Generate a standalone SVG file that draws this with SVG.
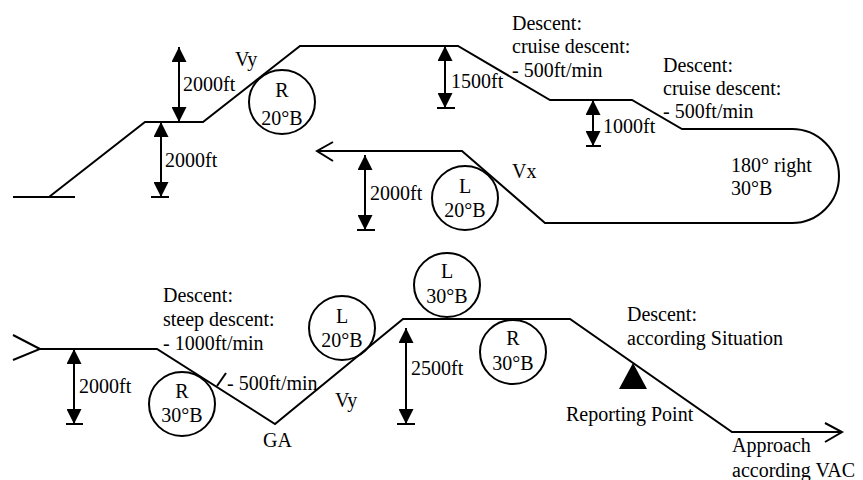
<svg xmlns="http://www.w3.org/2000/svg" width="863" height="480" viewBox="0 0 863 480">
<defs>
<marker id="ah" viewBox="0 0 15 15" refX="15" refY="7.5" markerWidth="15" markerHeight="15" markerUnits="userSpaceOnUse" orient="auto-start-reverse">
<path d="M0,0 L15,7.5 L0,15 z" fill="#000"/>
</marker>
<style>
.ln{fill:none;stroke:#000;stroke-width:2}
.dim{fill:none;stroke:#000;stroke-width:2;marker-start:url(#ah);marker-end:url(#ah)}
.bar{stroke:#000;stroke-width:2}
.c{fill:none;stroke:#000;stroke-width:2}
text{font-family:"Liberation Serif","Times New Roman",serif;font-size:20px;fill:#000}
.m{text-anchor:middle}
</style>
</defs>
<rect width="863" height="480" fill="#fff"/>
<g id="connectors">
<path class="ln" d="M13,197 H75"/>
<path class="ln" d="M49,197 L145,122 H203 L300,46 H458 L550,100 H632 L682,129 H792 A47,47 0 0 1 792,223 H545 L462,151 H317"/>
<path class="ln" d="M333,142 L317,151 L333,161"/>
<path class="ln" d="M13,335 L40,349 L13,360"/>
<path class="ln" d="M40,349 H157 L275,424 L403,319 H570 L732,432 H842"/>
<path class="ln" d="M825,423 L842,432 L825,442"/>
<path class="ln" d="M217,386 L226,373"/>
</g>
<g id="dim-2000-a"><line class="dim" x1="179" y1="47" x2="179" y2="122"/><line class="bar" x1="170" y1="122" x2="188" y2="122"/><text x="183" y="91">2000ft</text></g>
<g id="dim-2000-b"><line class="dim" x1="161" y1="122" x2="161" y2="197"/><line class="bar" x1="151" y1="197" x2="169" y2="197"/><text x="165" y="167">2000ft</text></g>
<g id="dim-1500"><line class="dim" x1="445" y1="46" x2="445" y2="108"/><line class="bar" x1="437" y1="108" x2="455" y2="108"/><text x="451" y="88">1500ft</text></g>
<g id="dim-1000"><line class="dim" x1="593" y1="100" x2="593" y2="146"/><line class="bar" x1="586" y1="146" x2="601" y2="146"/><text x="603" y="133">1000ft</text></g>
<g id="dim-2000-c"><line class="dim" x1="365" y1="155" x2="365" y2="230"/><line class="bar" x1="357" y1="230" x2="375" y2="230"/><text x="370" y="200">2000ft</text></g>
<g id="dim-2000-d"><line class="dim" x1="74" y1="349" x2="74" y2="424"/><line class="bar" x1="66" y1="424" x2="83" y2="424"/><text x="79" y="393">2000ft</text></g>
<g id="dim-2500"><line class="dim" x1="406" y1="328" x2="406" y2="424"/><line class="bar" x1="397" y1="424" x2="415" y2="424"/><text x="411" y="375">2500ft</text></g>
<g id="turn-r20"><ellipse class="c" cx="282" cy="102" rx="33" ry="32"/><text class="m" x="282" y="97">R</text><text class="m" x="282" y="125">20°B</text></g>
<g id="turn-l20a"><ellipse class="c" cx="465" cy="198" rx="33" ry="32"/><text class="m" x="465" y="193">L</text><text class="m" x="465" y="217">20°B</text></g>
<g id="turn-r30a"><ellipse class="c" cx="182" cy="404" rx="33" ry="32"/><text class="m" x="182" y="398">R</text><text class="m" x="182" y="422">30°B</text></g>
<g id="turn-l20b"><ellipse class="c" cx="342" cy="328" rx="33" ry="32"/><text class="m" x="342" y="323">L</text><text class="m" x="342" y="347">20°B</text></g>
<g id="turn-l30"><ellipse class="c" cx="447" cy="285" rx="33" ry="32"/><text class="m" x="447" y="278">L</text><text class="m" x="447" y="303">30°B</text></g>
<g id="turn-r30b"><ellipse class="c" cx="513" cy="352" rx="33" ry="32"/><text class="m" x="513" y="345">R</text><text class="m" x="513" y="370">30°B</text></g>
<g id="reporting-point"><path d="M619,389 L633,363 L647,389 z" fill="#000"/><text x="566" y="421">Reporting Point</text></g>
<g id="labels">
<text x="235" y="66">Vy</text>
<text x="512" y="178">Vx</text>
<text x="512" y="30">Descent:</text>
<text x="512" y="53">cruise descent:</text>
<text x="512" y="77">- 500ft/min</text>
<text x="663" y="72">Descent:</text>
<text x="663" y="95">cruise descent:</text>
<text x="663" y="118">- 500ft/min</text>
<text x="731" y="172">180° right</text>
<text x="731" y="195">30°B</text>
<text x="163" y="302">Descent:</text>
<text x="163" y="326">steep descent:</text>
<text x="163" y="350">- 1000ft/min</text>
<text x="227" y="390">- 500ft/min</text>
<text x="263" y="447">GA</text>
<text x="335" y="407">Vy</text>
<text x="627" y="321">Descent:</text>
<text x="627" y="345">according Situation</text>
<text x="732" y="452">Approach</text>
<text x="732" y="477">according VAC</text>
</g>
</svg>
